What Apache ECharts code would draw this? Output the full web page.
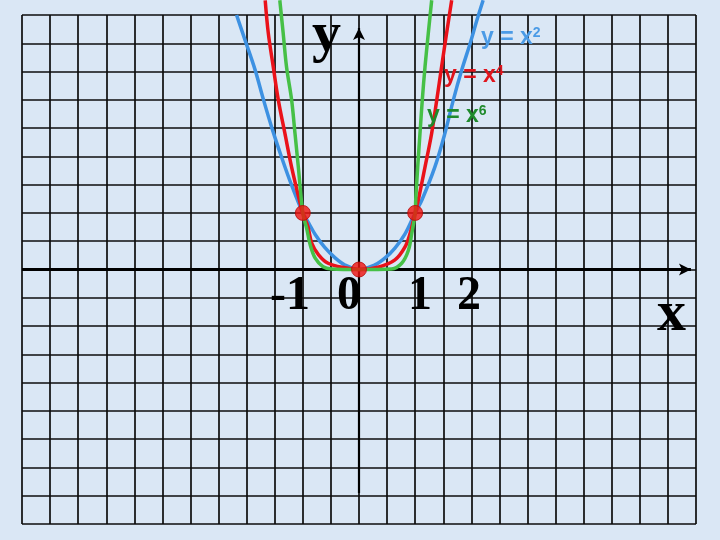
<!DOCTYPE html>
<html>
<head>
<meta charset="utf-8">
<script src="https://cdn.jsdelivr.net/npm/echarts@6/dist/echarts.min.js"></script>
<style>
html,body{margin:0;padding:0;background:#dae7f5;}
#chart{width:720px;height:540px;}
</style>
</head>
<body>
<div id="chart"></div>
<script>
// ---- data ----
const x2X = [-2.18, -2.03, -1.85, -1.70, -1.55, -1.38, -1.20, -1.00, -0.90, -0.78, -0.61, -0.43, -0.25, 0, 0.28, 0.46, 0.64, 0.82, 1.00, 1.12, 1.35, 1.53, 1.68, 1.83, 1.98, 2.10, 2.21];
const x2Y = [4.50, 4.06, 3.53, 3.00, 2.50, 1.99, 1.49, 1.00, 0.83, 0.62, 0.39, 0.21, 0.08, 0, 0.08, 0.20, 0.38, 0.63, 1.00, 1.23, 1.81, 2.41, 3.00, 3.53, 4.00, 4.41, 4.76];

const x4X = [-1.67, -1.615, -1.526, -1.437, -1.32, -1.20, -1.05, -1.00, -0.91, -0.84, -0.72, -0.55, -0.25, 0, 0.34, 0.64, 0.82, 0.91, 1.00, 1.056, 1.175, 1.294, 1.385, 1.47, 1.56, 1.65];
const x4Y = [4.76, 4.18, 3.58, 3.00, 2.41, 1.81, 1.18, 1.00, 0.76, 0.46, 0.26, 0.11, 0.03, 0, 0.04, 0.17, 0.40, 0.64, 1.00, 1.23, 1.81, 2.41, 3.00, 3.58, 4.18, 4.76];

const x6X = [-1.41, -1.35, -1.29, -1.20, -1.14, -1.08, -1.00, -0.93, -0.87, -0.78, -0.64, -0.49, 0, 0.58, 0.76, 0.88, 0.94, 1.00, 1.01, 1.045, 1.086, 1.127, 1.175, 1.234, 1.294];
const x6Y = [4.76, 4.18, 3.58, 3.00, 2.41, 1.81, 1.00, 0.72, 0.44, 0.20, 0.05, 0.01, 0, 0.01, 0.11, 0.34, 0.64, 1.00, 1.23, 1.81, 2.41, 3.00, 3.58, 4.18, 4.76];

const dotX = [-1, 0, 1];
const dotY = [1, 0, 1];

const tickLabels = ['-1', '0', '1', '2'];
const curveNames = ['y = x', 'y = x', 'y = x'];
const exponents = ['2', '4', '6'];
const axisNames = ['y', 'x'];

const xAxisLineFrom = -6, xAxisLineTo = 5.91;
const yAxisLineFrom = -3.95, yAxisLineTo = 4.27;

const xMin = -6, xMax = 6, yMin = -4.5, yMax = 4.5, step = 0.5;

// ---- build ----
const zip = (a, b) => a.map((v, i) => [v, b[i]]);

const BLUE = '#3d91e2', RED = '#ea121a', GREEN = '#46c046';
const BLUE_T = '#4b9be6', RED_T = '#e0141c', GREEN_T = '#1f8a2c';

const chart = echarts.init(document.getElementById('chart'), null, {renderer: 'canvas'});

function curve(name, data, color, z) {
  return {
    name, type: 'line', data, smooth: 0.35, symbol: 'none', clip: false, z,
    lineStyle: {color, width: 3.5}, silent: true
  };
}

function legendText(i, left, top, color) {
  return {
    type: 'text', left, top, z: 100,
    style: {
      text: '{a|' + curveNames[i] + '}{s|' + exponents[i] + '}',
      fill: color,
      rich: {
        a: {fontFamily: 'Liberation Sans, Arial, sans-serif', fontWeight: 'bold', fontSize: 23, fill: color},
        s: {fontFamily: 'Liberation Sans, Arial, sans-serif', fontWeight: 'bold', fontSize: 14, fill: color, verticalAlign: 'top'}
      }
    }
  };
}

const serifBig = 'bold 58px "Liberation Serif", "Times New Roman", serif';
const serifNum = 'bold 48px "Liberation Serif", "Times New Roman", serif';

const option = {
  backgroundColor: '#dae7f5',
  animation: false,
  grid: {left: 22, top: 15, width: 674, height: 509},
  xAxis: {
    type: 'value', min: xMin, max: xMax, interval: step,
    axisLine: {show: false}, axisTick: {show: false}, axisLabel: {show: false},
    splitLine: {show: true, lineStyle: {color: '#0c0c0c', width: 1.7}}
  },
  yAxis: {
    type: 'value', min: yMin, max: yMax, interval: step,
    axisLine: {show: false}, axisTick: {show: false}, axisLabel: {show: false},
    splitLine: {show: true, lineStyle: {color: '#0c0c0c', width: 1.7}}
  },
  series: [
    {
      type: 'line', data: [], silent: true, z: 3,
      markLine: {
        silent: true, animation: false,
        symbol: ['none', 'arrow'], symbolSize: [9, 12],
        label: {show: false},
        emphasis: {disabled: true},
        data: [
          [{coord: [xAxisLineFrom, 0], lineStyle: {color: '#000', width: 3.2, type: 'solid'}}, {coord: [xAxisLineTo, 0]}],
          [{coord: [0, yAxisLineFrom], lineStyle: {color: '#000', width: 2.2, type: 'solid'}}, {coord: [0, yAxisLineTo]}]
        ]
      }
    },
    curve('y = x2', zip(x2X, x2Y), BLUE, 4),
    curve('y = x4', zip(x4X, x4Y), RED, 5),
    curve('y = x6', zip(x6X, x6Y), GREEN, 6),
    {
      type: 'scatter', data: zip(dotX, dotY), symbol: 'circle', symbolSize: 15, z: 10, silent: true,
      itemStyle: {color: '#f0120e', borderColor: '#b80606', borderWidth: 1}
    }
  ],
  graphic: [
    {type: 'text', left: 312, top: 7, z: 100, style: {text: axisNames[0], font: serifBig, fill: '#000'}},
    {type: 'text', left: 657, top: 286, z: 100, style: {text: axisNames[1], font: serifBig, fill: '#000'}},
    {type: 'text', left: 270, top: 273, z: 100, style: {text: tickLabels[0], font: serifNum, fill: '#000'}},
    {type: 'text', left: 337, top: 273, z: 100, style: {text: tickLabels[1], font: serifNum, fill: '#000'}},
    {type: 'text', left: 408, top: 273, z: 100, style: {text: tickLabels[2], font: serifNum, fill: '#000'}},
    {type: 'text', left: 457, top: 273, z: 100, style: {text: tickLabels[3], font: serifNum, fill: '#000'}},
    legendText(0, 481, 26, BLUE_T),
    legendText(1, 444, 64, RED_T),
    legendText(2, 427, 104, GREEN_T)
  ]
};
chart.setOption(option);
</script>
</body>
</html>
